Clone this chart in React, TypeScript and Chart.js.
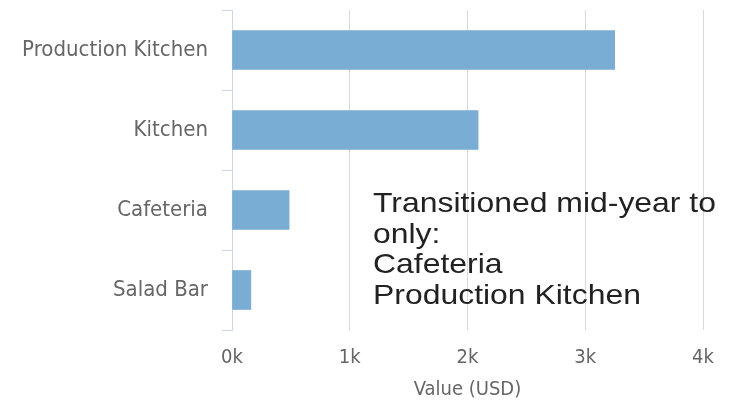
import React, { useEffect, useRef } from "react";
import { Chart, registerables } from "chart.js";

Chart.register(...registerables);

const categories = ["Production Kitchen", "Kitchen", "Cafeteria", "Salad Bar"];
const values = [3250, 2090, 485, 160];
const xTicks = [0, 1000, 2000, 3000, 4000];
const xTickLabels = ["0k", "1k", "2k", "3k", "4k"];
const axisTitle = "Value (USD)";
const noteLines = ["Transitioned mid-year to", "only:", "Cafeteria", "Production Kitchen"];

const chartFont = "'DejaVu Sans Condensed', 'DejaVu Sans', sans-serif";

const notePlugin = {
  id: "note",
  afterDraw(chart: any) {
    const ctx = chart.ctx;
    ctx.save();
    ctx.fillStyle = "#222222";
    ctx.font = "28px 'Liberation Sans', Arial, sans-serif";
    ctx.textBaseline = "alphabetic";
    ctx.textAlign = "left";
    const x0 = 373;
    const y0 = 212;
    const lh = 30.7;
    noteLines.forEach((line, i) => {
      ctx.save();
      ctx.translate(x0, y0 + i * lh);
      ctx.scale(1.14, 1);
      ctx.fillText(line, 0, 0);
      ctx.restore();
    });
    ctx.restore();
  },
};

export default function App() {
  const canvasRef = useRef<HTMLCanvasElement | null>(null);

  useEffect(() => {
    const canvas = canvasRef.current;
    if (!canvas) return;
    const chart = new Chart(canvas, {
      type: "bar",
      data: {
        labels: categories,
        datasets: [
          {
            data: values,
            backgroundColor: "#7aadd4",
            borderWidth: 0,
            barThickness: 39,
          },
        ],
      },
      options: {
        indexAxis: "y",
        animation: false,
        responsive: false,
        maintainAspectRatio: false,
        devicePixelRatio: 1,
        layout: { padding: { top: 10, left: 0, right: 28, bottom: 0 } },
        plugins: {
          legend: { display: false },
          tooltip: { enabled: false },
        },
        scales: {
          x: {
            type: "linear",
            min: 0,
            max: 4000,
            afterBuildTicks: (scale: any) => {
              scale.ticks = xTicks.map((v) => ({ value: v }));
            },
            afterFit: (scale: any) => {
              scale.height = 78;
              scale.paddingLeft = 0;
              scale.paddingRight = 0;
            },
            border: { display: false },
            grid: {
              color: "#d9d9d9",
              lineWidth: 1,
              drawTicks: false,
              tickLength: 0,
            },
            ticks: {
              padding: 16,
              color: "#666666",
              font: { family: chartFont, size: 20 },
              maxRotation: 0,
              callback: (_v: any, i: number) => xTickLabels[i],
            },
            title: {
              display: true,
              text: axisTitle,
              color: "#666666",
              font: { family: chartFont, size: 20 },
              padding: { top: 0, bottom: 6 },
            },
          },
          y: {
            type: "category",
            afterFit: (scale: any) => {
              scale.width = 232;
              scale.paddingTop = 0;
              scale.paddingBottom = 0;
            },
            border: { display: true, color: "#ccd6eb", width: 1 },
            grid: {
              offset: true,
              drawOnChartArea: false,
              drawTicks: true,
              tickLength: 10,
              color: "#ccd6eb",
            },
            ticks: {
              padding: 14,
              color: "#666666",
              font: { family: chartFont, size: 22 },
            },
          },
        },
      },
      plugins: [notePlugin],
    });
    return () => chart.destroy();
  }, []);

  return (
    <div style={{ position: "absolute", left: 0, top: 0, width: 731, height: 408, background: "#ffffff" }}>
      <canvas ref={canvasRef} width={731} height={408} style={{ width: 731, height: 408, display: "block" }} />
    </div>
  );
}
